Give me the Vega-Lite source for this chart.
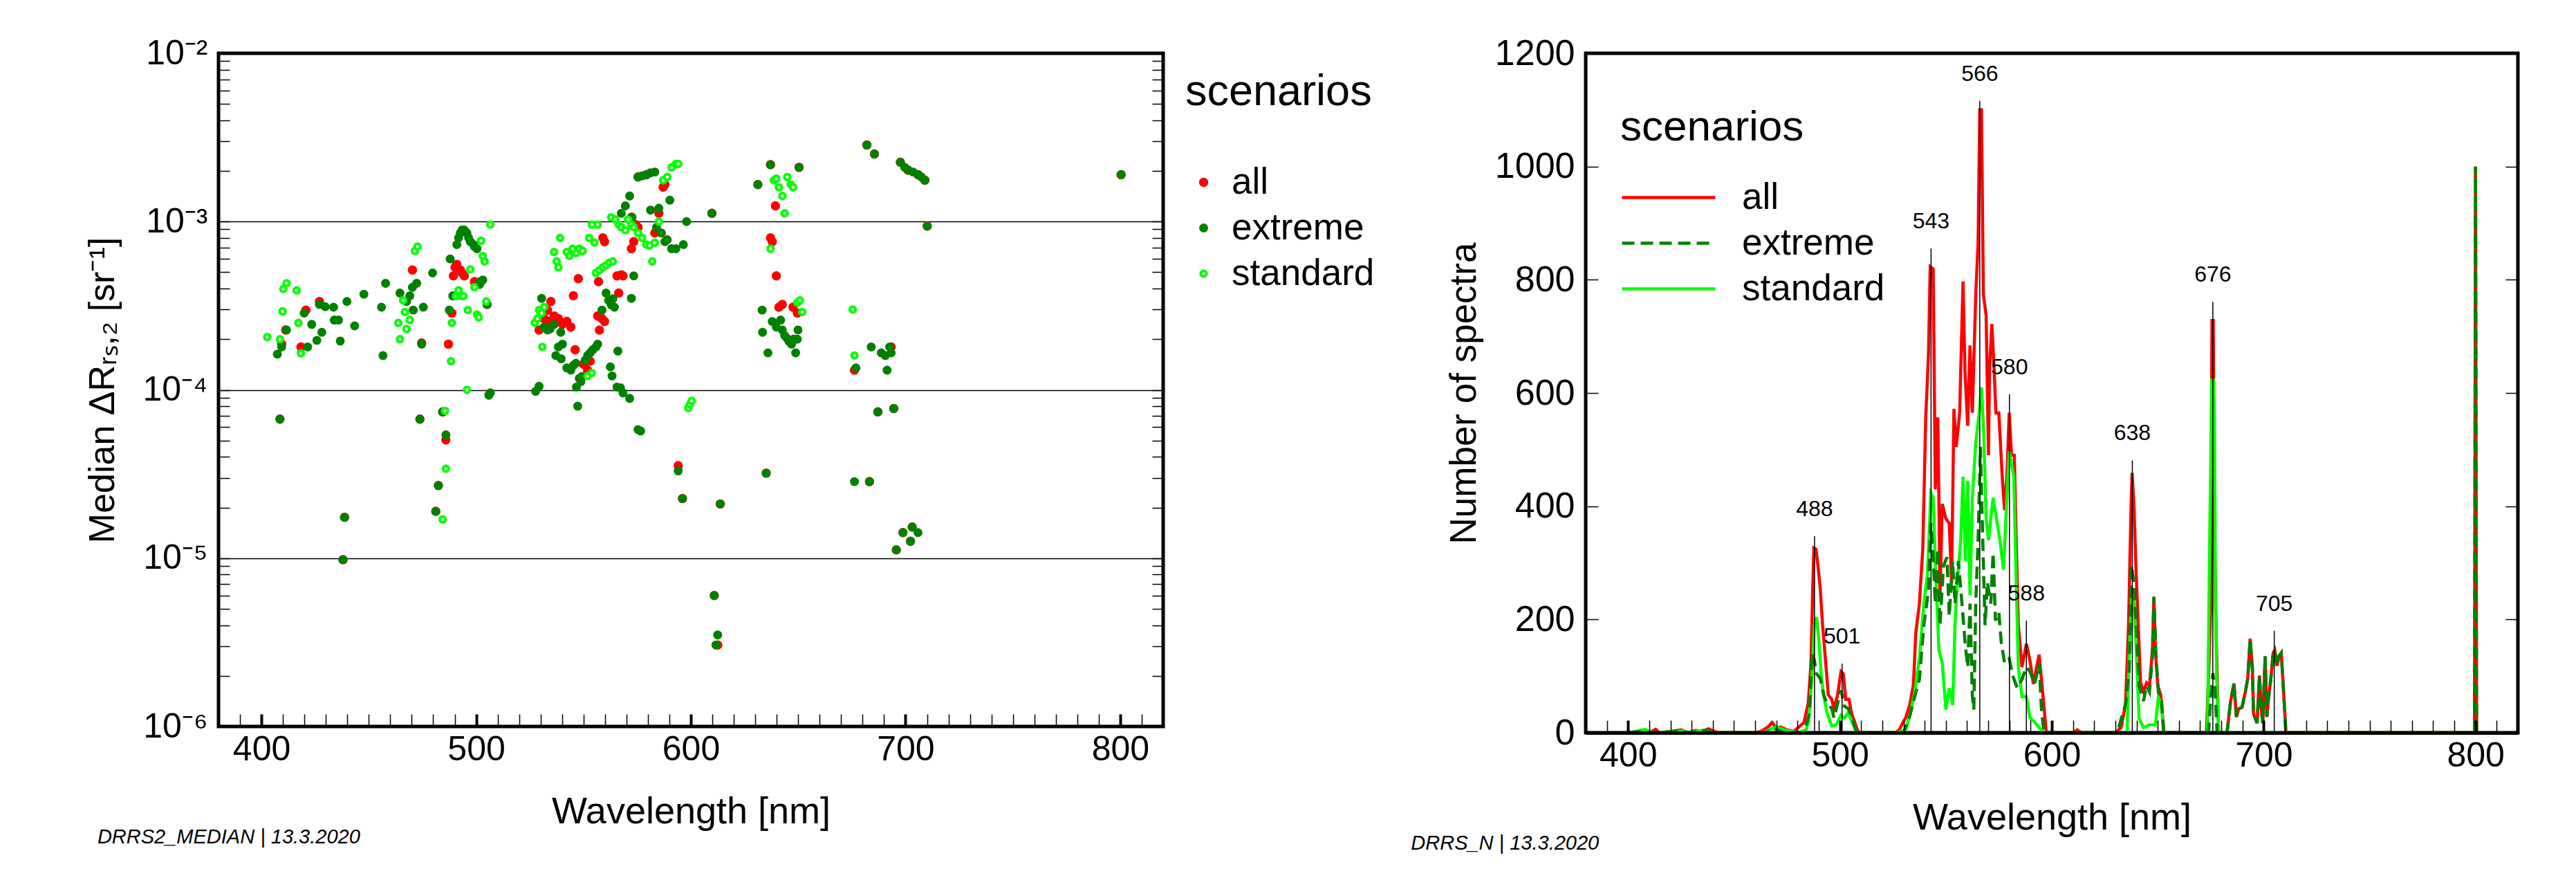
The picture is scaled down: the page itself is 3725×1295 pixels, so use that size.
{
  "$schema": "https://vega.github.io/schema/vega-lite/v6.json",
  "background": "white",
  "padding": {"left": 120, "top": 48, "right": 5, "bottom": 5},
  "bounds": "flush",
  "spacing": 611,
  "resolve": {
    "scale": {"fill": "independent", "stroke": "independent", "size": "independent", "strokeDash": "independent"},
    "legend": {"fill": "independent", "stroke": "independent", "size": "independent", "strokeDash": "independent"}
  },
  "config": {
    "font": "Liberation Sans",
    "view": {"stroke": "black", "strokeWidth": 5},
    "axis": {"domain": false, "labelFont": "Liberation Sans", "labelFontSize": 50, "titleFont": "Liberation Sans", "titleFontSize": 54, "titleFontWeight": "normal", "labelColor": "black", "titleColor": "black", "tickColor": "black", "grid": false, "labelOverlap": false, "labelFlush": false, "labelLimit": 0, "titleLimit": 0},
    "legend": {"titleFont": "Liberation Sans", "labelFont": "Liberation Sans", "titleFontWeight": "normal", "titleColor": "black", "labelColor": "black", "labelLimit": 0, "titleLimit": 0},
    "title": {"font": "Liberation Sans", "fontSize": 29, "fontStyle": "italic", "fontWeight": "normal", "color": "black"}
  },
  "datasets": {
    "pts": [
      {"w":409.4,"v":1.87e-4,"s":"all"},{"w":411.3,"v":2.27e-4,"s":"all"},{"w":418.4,"v":1.8e-4,"s":"all"},{"w":420.7,"v":2.98e-4,"s":"all"},{"w":427,"v":3.35e-4,"s":"all"},{"w":438,"v":9.8e-6,"s":"all"},{"w":408.6,"v":6.7e-5,"s":"all"},{"w":438.7,"v":1.75e-5,"s":"all"},{"w":470.3,"v":5.15e-4,"s":"all"},{"w":473.8,"v":6.7e-5,"s":"all"},{"w":474.6,"v":1.9e-4,"s":"all"},{"w":481.2,"v":1.9e-5,"s":"all"},{"w":482.4,"v":2.7e-5,"s":"all"},{"w":484.4,"v":7.4e-5,"s":"all"},{"w":485.9,"v":5.05e-5,"s":"all"},{"w":487.1,"v":1.87e-4,"s":"all"},{"w":488.7,"v":2.86e-4,"s":"all"},{"w":489.4,"v":4.76e-4,"s":"all"},{"w":490.2,"v":5.35e-4,"s":"all"},{"w":491,"v":5.56e-4,"s":"all"},{"w":492.6,"v":5.15e-4,"s":"all"},{"w":493.4,"v":4.95e-4,"s":"all"},{"w":494.5,"v":4.76e-4,"s":"all"},{"w":499.2,"v":4.4e-4,"s":"all"},{"w":505.1,"v":3.22e-4,"s":"all"},
      {"w":529.3,"v":2.27e-4,"s":"all"},{"w":531.6,"v":2.65e-4,"s":"all"},{"w":533.2,"v":2.98e-4,"s":"all"},{"w":534.4,"v":2.55e-4,"s":"all"},{"w":534.8,"v":3.35e-4,"s":"all"},{"w":536.3,"v":2.75e-4,"s":"all"},{"w":538.3,"v":2.65e-4,"s":"all"},{"w":540.2,"v":2.45e-4,"s":"all"},{"w":542.2,"v":2.55e-4,"s":"all"},{"w":544.1,"v":2.36e-4,"s":"all"},{"w":545.3,"v":3.62e-4,"s":"all"},{"w":546.1,"v":1.73e-4,"s":"all"},{"w":547.6,"v":4.58e-4,"s":"all"},{"w":550,"v":1.42e-4,"s":"all"},{"w":551.2,"v":1.48e-4,"s":"all"},{"w":551.9,"v":1.31e-4,"s":"all"},{"w":553.1,"v":1.48e-4,"s":"all"},{"w":556.6,"v":2.75e-4,"s":"all"},{"w":557.4,"v":2.27e-4,"s":"all"},{"w":557,"v":4.4e-4,"s":"all"},{"w":558.6,"v":2.65e-4,"s":"all"},{"w":559.8,"v":2.55e-4,"s":"all"},{"w":559,"v":8.0e-4,"s":"all"},{"w":559.8,"v":7.6e-4,"s":"all"},{"w":565.6,"v":4.76e-4,"s":"all"},{"w":567.6,"v":4.83e-4,"s":"all"},{"w":566.4,"v":3.76e-4,"s":"all"},{"w":568.4,"v":4.76e-4,"s":"all"},{"w":572.3,"v":6.9e-4,"s":"all"},{"w":573.4,"v":7.6e-4,"s":"all"},{"w":572.3,"v":1.06e-3,"s":"all"},{"w":574.2,"v":9.6e-4,"s":"all"},{"w":575.4,"v":9.25e-4,"s":"all"},{"w":583.2,"v":8.55e-4,"s":"all"},{"w":585.1,"v":1.12e-3,"s":"all"},{"w":587.1,"v":1.6e-3,"s":"all"},{"w":587.9,"v":1.66e-3,"s":"all"},{"w":594.1,"v":3.55e-5,"s":"all"},{"w":596.1,"v":2.26e-5,"s":"all"},{"w":609.8,"v":1.12e-3,"s":"all"},{"w":610.9,"v":6e-6,"s":"all"},{"w":612.5,"v":3.05e-6,"s":"all"},{"w":613.7,"v":2.1e-5,"s":"all"},{"w":575.4,"v":1.84e-3,"s":"all"},{"w":579.3,"v":1.9e-3,"s":"all"},
      {"w":631.2,"v":1.66e-3,"s":"all"},{"w":637.1,"v":2.18e-3,"s":"all"},{"w":639.4,"v":1.24e-3,"s":"all"},{"w":637.1,"v":8.0e-4,"s":"all"},{"w":637.9,"v":7.6e-4,"s":"all"},{"w":639.8,"v":4.76e-4,"s":"all"},{"w":641,"v":3.1e-4,"s":"all"},{"w":642.6,"v":3.22e-4,"s":"all"},{"w":647.6,"v":3.1e-4,"s":"all"},{"w":649.6,"v":2.86e-4,"s":"all"},{"w":648,"v":2.0e-4,"s":"all"},{"w":650.4,"v":2.1e-3,"s":"all"},{"w":635.1,"v":3.2e-5,"s":"all"},
      {"w":676.2,"v":1.31e-4,"s":"all"},{"w":683.2,"v":2.85e-5,"s":"all"},{"w":682,"v":2.85e-3,"s":"all"},{"w":685.5,"v":2.52e-3,"s":"all"},{"w":687.1,"v":7.4e-5,"s":"all"},{"w":693.3,"v":1.8e-4,"s":"all"},{"w":694.5,"v":7.75e-5,"s":"all"},{"w":695.7,"v":1.12e-5,"s":"all"},{"w":697.6,"v":2.25e-3,"s":"all"},{"w":698.8,"v":1.42e-5,"s":"all"},{"w":701.2,"v":2.02e-3,"s":"all"},{"w":702.3,"v":1.26e-5,"s":"all"},{"w":703.1,"v":1.53e-5,"s":"all"},{"w":705.8,"v":1.9e-3,"s":"all"},{"w":709,"v":1.76e-3,"s":"all"},{"w":710.1,"v":9.4e-4,"s":"all"},{"w":800.4,"v":1.9e-3,"s":"all"},

      {"w":407.4,"v":1.63e-4,"s":"extreme"},{"w":408.6,"v":6.7e-5,"s":"extreme"},{"w":409.4,"v":1.8e-4,"s":"extreme"},{"w":411.7,"v":2.27e-4,"s":"extreme"},{"w":419.9,"v":2.86e-4,"s":"extreme"},{"w":421.5,"v":1.8e-4,"s":"extreme"},{"w":423.4,"v":2.45e-4,"s":"extreme"},{"w":425.8,"v":1.97e-4,"s":"extreme"},{"w":427,"v":3.22e-4,"s":"extreme"},{"w":428.1,"v":2.2e-4,"s":"extreme"},{"w":429.7,"v":3.12e-4,"s":"extreme"},{"w":433.6,"v":3.1e-4,"s":"extreme"},{"w":433.9,"v":2.6e-4,"s":"extreme"},{"w":435.9,"v":2.6e-4,"s":"extreme"},{"w":436.7,"v":1.95e-4,"s":"extreme"},{"w":438.7,"v":1.75e-5,"s":"extreme"},{"w":437.9,"v":9.8e-6,"s":"extreme"},{"w":439.8,"v":3.35e-4,"s":"extreme"},{"w":443.4,"v":2.4e-4,"s":"extreme"},{"w":447.7,"v":3.7e-4,"s":"extreme"},{"w":455.9,"v":3.1e-4,"s":"extreme"},{"w":456.6,"v":1.6e-4,"s":"extreme"},{"w":457.8,"v":4.3e-4,"s":"extreme"},{"w":464.5,"v":3.76e-4,"s":"extreme"},{"w":467.6,"v":3.35e-4,"s":"extreme"},{"w":469.1,"v":3.62e-4,"s":"extreme"},{"w":470.3,"v":4.07e-4,"s":"extreme"},{"w":470.7,"v":2.98e-4,"s":"extreme"},{"w":472.3,"v":4.3e-4,"s":"extreme"},{"w":473.8,"v":6.7e-5,"s":"extreme"},{"w":475.4,"v":3.1e-4,"s":"extreme"},{"w":474.6,"v":1.87e-4,"s":"extreme"},{"w":479.7,"v":4.95e-4,"s":"extreme"},{"w":481.2,"v":1.9e-5,"s":"extreme"},{"w":482.4,"v":2.7e-5,"s":"extreme"},{"w":484.4,"v":7.4e-5,"s":"extreme"},{"w":485.9,"v":5.4e-5,"s":"extreme"},{"w":487.5,"v":2.98e-4,"s":"extreme"},{"w":487.9,"v":6.0e-4,"s":"extreme"},{"w":489.1,"v":3.62e-4,"s":"extreme"},{"w":491,"v":7.3e-4,"s":"extreme"},{"w":491.8,"v":8.0e-4,"s":"extreme"},{"w":492.6,"v":8.55e-4,"s":"extreme"},{"w":493.4,"v":8.9e-4,"s":"extreme"},{"w":494.5,"v":8.9e-4,"s":"extreme"},{"w":495.7,"v":8.55e-4,"s":"extreme"},{"w":496.5,"v":8.0e-4,"s":"extreme"},{"w":497.3,"v":7.6e-4,"s":"extreme"},{"w":498.8,"v":7.3e-4,"s":"extreme"},{"w":499.2,"v":7.1e-4,"s":"extreme"},{"w":500.4,"v":6.9e-4,"s":"extreme"},{"w":501.6,"v":4.23e-4,"s":"extreme"},{"w":501.9,"v":4.4e-4,"s":"extreme"},{"w":503.1,"v":4.5e-4,"s":"extreme"},{"w":505.1,"v":3.22e-4,"s":"extreme"},{"w":505.9,"v":9.3e-5,"s":"extreme"},{"w":506.6,"v":9.6e-5,"s":"extreme"},
      {"w":527.7,"v":9.8e-5,"s":"extreme"},{"w":529.3,"v":1.05e-4,"s":"extreme"},{"w":530.5,"v":3.5e-4,"s":"extreme"},{"w":531.6,"v":2.36e-4,"s":"extreme"},{"w":533.2,"v":2.27e-4,"s":"extreme"},{"w":534.4,"v":2.3e-4,"s":"extreme"},{"w":536.3,"v":2.45e-4,"s":"extreme"},{"w":539.4,"v":2.2e-4,"s":"extreme"},{"w":540.2,"v":1.87e-4,"s":"extreme"},{"w":538.3,"v":1.8e-4,"s":"extreme"},{"w":537.1,"v":1.6e-4,"s":"extreme"},{"w":539.6,"v":1.53e-4,"s":"extreme"},{"w":542.2,"v":1.35e-4,"s":"extreme"},{"w":544.1,"v":1.31e-4,"s":"extreme"},{"w":545.3,"v":1.4e-4,"s":"extreme"},{"w":546.5,"v":1.44e-4,"s":"extreme"},{"w":548,"v":1.17e-4,"s":"extreme"},{"w":549.2,"v":1.2e-4,"s":"extreme"},{"w":547.3,"v":8.0e-5,"s":"extreme"},{"w":546.7,"v":1.04e-4,"s":"extreme"},{"w":548.8,"v":1.12e-4,"s":"extreme"},{"w":550.8,"v":1.5e-4,"s":"extreme"},{"w":551.9,"v":1.6e-4,"s":"extreme"},{"w":553.1,"v":1.66e-4,"s":"extreme"},{"w":554.3,"v":1.73e-4,"s":"extreme"},{"w":555.8,"v":1.8e-4,"s":"extreme"},{"w":556.6,"v":1.87e-4,"s":"extreme"},{"w":558.6,"v":2.98e-4,"s":"extreme"},{"w":560.5,"v":3.76e-4,"s":"extreme"},{"w":561.7,"v":3.4e-4,"s":"extreme"},{"w":562.9,"v":3.2e-4,"s":"extreme"},{"w":564.4,"v":3.1e-4,"s":"extreme"},{"w":563.7,"v":3.48e-4,"s":"extreme"},{"w":562.5,"v":1.37e-4,"s":"extreme"},{"w":563.3,"v":1.21e-4,"s":"extreme"},{"w":566,"v":1.7e-4,"s":"extreme"},{"w":565.6,"v":1.04e-4,"s":"extreme"},{"w":567.2,"v":1.03e-4,"s":"extreme"},{"w":568.4,"v":9.6e-5,"s":"extreme"},{"w":571.5,"v":8.9e-5,"s":"extreme"},{"w":575.4,"v":5.8e-5,"s":"extreme"},{"w":576.6,"v":5.7e-5,"s":"extreme"},{"w":572.3,"v":3.5e-4,"s":"extreme"},{"w":573.4,"v":4.76e-4,"s":"extreme"},{"w":567.6,"v":1.12e-3,"s":"extreme"},{"w":569.5,"v":1.24e-3,"s":"extreme"},{"w":571.5,"v":1.42e-3,"s":"extreme"},{"w":572.6,"v":1.06e-3,"s":"extreme"},{"w":575.4,"v":1.84e-3,"s":"extreme"},{"w":577.3,"v":1.87e-3,"s":"extreme"},{"w":579.3,"v":1.9e-3,"s":"extreme"},{"w":581.2,"v":1.95e-3,"s":"extreme"},{"w":583.2,"v":1.97e-3,"s":"extreme"},{"w":581.2,"v":1.17e-3,"s":"extreme"},{"w":584,"v":9.25e-4,"s":"extreme"},{"w":585.1,"v":1.2e-3,"s":"extreme"},{"w":586.3,"v":8.55e-4,"s":"extreme"},{"w":587.9,"v":7.6e-4,"s":"extreme"},{"w":589,"v":7.8e-4,"s":"extreme"},{"w":591,"v":6.9e-4,"s":"extreme"},{"w":593,"v":6.9e-4,"s":"extreme"},{"w":590.2,"v":1.34e-3,"s":"extreme"},{"w":596.5,"v":7.3e-4,"s":"extreme"},{"w":598,"v":1.0e-3,"s":"extreme"},{"w":594.1,"v":3.3e-5,"s":"extreme"},{"w":596.1,"v":2.26e-5,"s":"extreme"},{"w":609.8,"v":1.12e-3,"s":"extreme"},{"w":610.9,"v":6.0e-6,"s":"extreme"},{"w":612.5,"v":3.5e-6,"s":"extreme"},{"w":611.7,"v":3.05e-6,"s":"extreme"},{"w":613.7,"v":2.1e-5,"s":"extreme"},
      {"w":631.2,"v":1.66e-3,"s":"extreme"},{"w":637.1,"v":2.18e-3,"s":"extreme"},{"w":633.2,"v":2.98e-4,"s":"extreme"},{"w":633.4,"v":2.2e-4,"s":"extreme"},{"w":635.9,"v":1.66e-4,"s":"extreme"},{"w":637.9,"v":2.55e-4,"s":"extreme"},{"w":639.8,"v":2.36e-4,"s":"extreme"},{"w":641.8,"v":2.6e-4,"s":"extreme"},{"w":642.6,"v":2.27e-4,"s":"extreme"},{"w":643.7,"v":2.1e-4,"s":"extreme"},{"w":644.9,"v":2.02e-4,"s":"extreme"},{"w":645.7,"v":1.94e-4,"s":"extreme"},{"w":646.9,"v":1.87e-4,"s":"extreme"},{"w":648,"v":2.0e-4,"s":"extreme"},{"w":649.6,"v":2.0e-4,"s":"extreme"},{"w":648.8,"v":1.66e-4,"s":"extreme"},{"w":650.4,"v":2.1e-3,"s":"extreme"},{"w":635.1,"v":3.2e-5,"s":"extreme"},{"w":649.9,"v":2.27e-4,"s":"extreme"},
      {"w":676.9,"v":1.35e-4,"s":"extreme"},{"w":676.2,"v":2.85e-5,"s":"extreme"},{"w":682,"v":2.85e-3,"s":"extreme"},{"w":685.5,"v":2.52e-3,"s":"extreme"},{"w":683.2,"v":2.85e-5,"s":"extreme"},{"w":684,"v":1.8e-4,"s":"extreme"},{"w":687.1,"v":7.4e-5,"s":"extreme"},{"w":688.7,"v":1.66e-4,"s":"extreme"},{"w":690.6,"v":1.6e-4,"s":"extreme"},{"w":691.4,"v":1.31e-4,"s":"extreme"},{"w":692.6,"v":1.8e-4,"s":"extreme"},{"w":693.3,"v":1.66e-4,"s":"extreme"},{"w":694.5,"v":7.75e-5,"s":"extreme"},{"w":695.7,"v":1.12e-5,"s":"extreme"},{"w":697.6,"v":2.25e-3,"s":"extreme"},{"w":698.8,"v":1.42e-5,"s":"extreme"},{"w":699.6,"v":2.1e-3,"s":"extreme"},{"w":701.2,"v":2.02e-3,"s":"extreme"},{"w":702.3,"v":1.26e-5,"s":"extreme"},{"w":703.1,"v":1.53e-5,"s":"extreme"},{"w":703.5,"v":1.97e-3,"s":"extreme"},{"w":705.8,"v":1.42e-5,"s":"extreme"},{"w":705.9,"v":1.9e-3,"s":"extreme"},{"w":707.4,"v":1.84e-3,"s":"extreme"},{"w":709,"v":1.76e-3,"s":"extreme"},{"w":710.1,"v":9.4e-4,"s":"extreme"},{"w":800.4,"v":1.9e-3,"s":"extreme"},

      {"w":402.7,"v":2.06e-4,"s":"standard"},{"w":408.6,"v":2.0e-4,"s":"standard"},{"w":409.8,"v":2.93e-4,"s":"standard"},{"w":410.2,"v":3.98e-4,"s":"standard"},{"w":411.7,"v":4.3e-4,"s":"standard"},{"w":416.4,"v":3.9e-4,"s":"standard"},{"w":417.2,"v":2.5e-4,"s":"standard"},{"w":418.4,"v":1.65e-4,"s":"standard"},
      {"w":463.7,"v":2.5e-4,"s":"standard"},{"w":464.5,"v":2.0e-4,"s":"standard"},{"w":466,"v":3.4e-4,"s":"standard"},{"w":466.8,"v":2.9e-4,"s":"standard"},{"w":467.6,"v":2.3e-4,"s":"standard"},{"w":469.1,"v":2.6e-4,"s":"standard"},{"w":471.5,"v":6.7e-4,"s":"standard"},{"w":472.7,"v":7.1e-4,"s":"standard"},{"w":484.4,"v":1.7e-5,"s":"standard"},{"w":485.5,"v":7.5e-5,"s":"standard"},{"w":485.9,"v":3.4e-5,"s":"standard"},{"w":488.3,"v":1.48e-4,"s":"standard"},{"w":488.7,"v":2.5e-4,"s":"standard"},{"w":490.6,"v":3.6e-4,"s":"standard"},{"w":492.6,"v":3.62e-4,"s":"standard"},{"w":494.1,"v":3.6e-4,"s":"standard"},{"w":491.8,"v":3.9e-4,"s":"standard"},{"w":496.1,"v":2.98e-4,"s":"standard"},{"w":495.7,"v":1.0e-4,"s":"standard"},{"w":497.3,"v":5.2e-4,"s":"standard"},{"w":499.2,"v":4.07e-4,"s":"standard"},{"w":500.4,"v":2.8e-4,"s":"standard"},{"w":501.2,"v":2.7e-4,"s":"standard"},{"w":502.3,"v":7.7e-4,"s":"standard"},{"w":503.1,"v":6.25e-4,"s":"standard"},{"w":503.9,"v":5.8e-4,"s":"standard"},{"w":504.7,"v":3.35e-4,"s":"standard"},{"w":506.6,"v":9.6e-4,"s":"standard"},
      {"w":527.3,"v":2.5e-4,"s":"standard"},{"w":528.5,"v":2.65e-4,"s":"standard"},{"w":529.3,"v":2.98e-4,"s":"standard"},{"w":530.5,"v":2.86e-4,"s":"standard"},{"w":531.6,"v":3.1e-4,"s":"standard"},{"w":530.8,"v":1.8e-4,"s":"standard"},{"w":536.3,"v":6.6e-4,"s":"standard"},{"w":537.5,"v":5.8e-4,"s":"standard"},{"w":538.3,"v":5.35e-4,"s":"standard"},{"w":539.1,"v":8.0e-4,"s":"standard"},{"w":542.2,"v":6.6e-4,"s":"standard"},{"w":543.4,"v":6.25e-4,"s":"standard"},{"w":544.9,"v":6.9e-4,"s":"standard"},{"w":546.5,"v":6.5e-4,"s":"standard"},{"w":548,"v":6.9e-4,"s":"standard"},{"w":549.6,"v":6.7e-4,"s":"standard"},{"w":552.7,"v":8.0e-4,"s":"standard"},{"w":553.9,"v":9.6e-4,"s":"standard"},{"w":555.8,"v":4.95e-4,"s":"standard"},{"w":557.4,"v":5.15e-4,"s":"standard"},{"w":559,"v":5.35e-4,"s":"standard"},{"w":560.5,"v":5.5e-4,"s":"standard"},{"w":562.1,"v":5.7e-4,"s":"standard"},{"w":563.7,"v":5.8e-4,"s":"standard"},{"w":551.9,"v":1.21e-4,"s":"standard"},{"w":553.9,"v":1.26e-4,"s":"standard"},{"w":555.1,"v":7.5e-4,"s":"standard"},{"w":556.6,"v":9.6e-4,"s":"standard"},{"w":562.9,"v":1.06e-3,"s":"standard"},{"w":564.8,"v":1.03e-3,"s":"standard"},{"w":566.4,"v":9.6e-4,"s":"standard"},{"w":567.6,"v":9.25e-4,"s":"standard"},{"w":569.5,"v":8.9e-4,"s":"standard"},{"w":570.7,"v":1.03e-3,"s":"standard"},{"w":572.3,"v":9.6e-4,"s":"standard"},{"w":573.4,"v":9.25e-4,"s":"standard"},{"w":575.4,"v":8.55e-4,"s":"standard"},{"w":577.3,"v":8.0e-4,"s":"standard"},{"w":579.3,"v":7.3e-4,"s":"standard"},{"w":580.8,"v":7.2e-4,"s":"standard"},{"w":582,"v":5.8e-4,"s":"standard"},{"w":583.2,"v":7.5e-4,"s":"standard"},{"w":585.1,"v":1.0e-3,"s":"standard"},{"w":587.1,"v":1.76e-3,"s":"standard"},{"w":589,"v":1.84e-3,"s":"standard"},{"w":591,"v":2.1e-3,"s":"standard"},{"w":593,"v":2.2e-3,"s":"standard"},{"w":594.1,"v":2.2e-3,"s":"standard"},{"w":598.8,"v":7.8e-5,"s":"standard"},{"w":599.6,"v":8.2e-5,"s":"standard"},{"w":600.4,"v":8.6e-5,"s":"standard"},
      {"w":638.7,"v":1.76e-3,"s":"standard"},{"w":639.8,"v":1.8e-3,"s":"standard"},{"w":641,"v":1.6e-3,"s":"standard"},{"w":642.6,"v":1.42e-3,"s":"standard"},{"w":643.7,"v":1.12e-3,"s":"standard"},{"w":644.9,"v":1.84e-3,"s":"standard"},{"w":646.5,"v":1.66e-3,"s":"standard"},{"w":647.6,"v":1.6e-3,"s":"standard"},{"w":637.1,"v":6.9e-4,"s":"standard"},{"w":649.6,"v":3.3e-4,"s":"standard"},{"w":650.8,"v":3.4e-4,"s":"standard"},{"w":651.9,"v":2.9e-4,"s":"standard"},{"w":675.4,"v":3.0e-4,"s":"standard"},{"w":676.2,"v":1.6e-4,"s":"standard"}
    ],
    "lines": [
      {"w":400,"n":0,"s":"all"},{"w":404,"n":0,"s":"all"},{"w":406,"n":4,"s":"all"},{"w":408,"n":2,"s":"all"},{"w":410,"n":0,"s":"all"},{"w":413,"n":6,"s":"all"},{"w":415,"n":0,"s":"all"},{"w":420,"n":2,"s":"all"},{"w":425,"n":5,"s":"all"},{"w":428,"n":0,"s":"all"},{"w":432,"n":4,"s":"all"},{"w":435,"n":2,"s":"all"},{"w":438,"n":7,"s":"all"},{"w":440,"n":3,"s":"all"},{"w":443,"n":0,"s":"all"},{"w":460,"n":0,"s":"all"},{"w":463,"n":3,"s":"all"},{"w":466,"n":10,"s":"all"},{"w":468,"n":18,"s":"all"},{"w":470,"n":8,"s":"all"},{"w":472,"n":10,"s":"all"},{"w":475,"n":5,"s":"all"},{"w":478,"n":2,"s":"all"},{"w":480,"n":8,"s":"all"},{"w":483,"n":18,"s":"all"},{"w":485,"n":51,"s":"all"},{"w":486.3,"n":120,"s":"all"},{"w":487.2,"n":263,"s":"all"},{"w":487.7,"n":326,"s":"all"},{"w":488.7,"n":324,"s":"all"},{"w":489.6,"n":295,"s":"all"},{"w":490.7,"n":255,"s":"all"},{"w":491.8,"n":190,"s":"all"},{"w":492.9,"n":141,"s":"all"},{"w":494.5,"n":67,"s":"all"},{"w":496.1,"n":59,"s":"all"},{"w":497.2,"n":43,"s":"all"},{"w":498.9,"n":67,"s":"all"},{"w":500.5,"n":108,"s":"all"},{"w":501.6,"n":104,"s":"all"},{"w":502.7,"n":59,"s":"all"},{"w":504.3,"n":59,"s":"all"},{"w":505.4,"n":35,"s":"all"},{"w":507,"n":18,"s":"all"},{"w":508.1,"n":6,"s":"all"},{"w":509,"n":0,"s":"all"},{"w":526,"n":0,"s":"all"},{"w":528,"n":5,"s":"all"},{"w":530,"n":20,"s":"all"},{"w":531,"n":26,"s":"all"},{"w":533,"n":50,"s":"all"},{"w":534.7,"n":86,"s":"all"},{"w":535.8,"n":176,"s":"all"},{"w":537.5,"n":228,"s":"all"},{"w":539.1,"n":325,"s":"all"},{"w":540.5,"n":557,"s":"all"},{"w":541.8,"n":670,"s":"all"},{"w":542.6,"n":823,"s":"all"},{"w":544,"n":819,"s":"all"},{"w":544.5,"n":640,"s":"all"},{"w":545,"n":430,"s":"all"},{"w":546.2,"n":557,"s":"all"},{"w":546.7,"n":415,"s":"all"},{"w":547.2,"n":236,"s":"all"},{"w":548.3,"n":404,"s":"all"},{"w":550,"n":378,"s":"all"},{"w":551.6,"n":370,"s":"all"},{"w":552.7,"n":265,"s":"all"},{"w":553.8,"n":572,"s":"all"},{"w":554.9,"n":505,"s":"all"},{"w":556.5,"n":565,"s":"all"},{"w":558.1,"n":797,"s":"all"},{"w":559,"n":640,"s":"all"},{"w":560.3,"n":542,"s":"all"},{"w":561.4,"n":684,"s":"all"},{"w":562.5,"n":565,"s":"all"},{"w":564.1,"n":774,"s":"all"},{"w":565.2,"n":864,"s":"all"},{"w":566,"n":1100,"s":"all"},{"w":566.8,"n":1100,"s":"all"},{"w":567.7,"n":774,"s":"all"},{"w":569,"n":737,"s":"all"},{"w":570.1,"n":490,"s":"all"},{"w":570.6,"n":640,"s":"all"},{"w":571.7,"n":722,"s":"all"},{"w":572.8,"n":640,"s":"all"},{"w":573.6,"n":565,"s":"all"},{"w":575,"n":565,"s":"all"},{"w":576.6,"n":452,"s":"all"},{"w":577.7,"n":393,"s":"all"},{"w":578.8,"n":452,"s":"all"},{"w":579.9,"n":565,"s":"all"},{"w":581,"n":490,"s":"all"},{"w":582.3,"n":490,"s":"all"},{"w":583.2,"n":340,"s":"all"},{"w":584.2,"n":190,"s":"all"},{"w":585.9,"n":116,"s":"all"},{"w":588,"n":157,"s":"all"},{"w":589.7,"n":127,"s":"all"},{"w":591.3,"n":86,"s":"all"},{"w":594,"n":138,"s":"all"},{"w":595.7,"n":71,"s":"all"},{"w":597.3,"n":4,"s":"all"},{"w":598,"n":0,"s":"all"},{"w":610,"n":0,"s":"all"},{"w":612,"n":5,"s":"all"},{"w":614,"n":0,"s":"all"},{"w":630,"n":0,"s":"all"},{"w":632.7,"n":9,"s":"all"},{"w":634.8,"n":50,"s":"all"},{"w":636.2,"n":188,"s":"all"},{"w":637.4,"n":398,"s":"all"},{"w":637.9,"n":459,"s":"all"},{"w":638.8,"n":398,"s":"all"},{"w":639.7,"n":293,"s":"all"},{"w":640.7,"n":198,"s":"all"},{"w":641.9,"n":88,"s":"all"},{"w":643.3,"n":72,"s":"all"},{"w":644.7,"n":88,"s":"all"},{"w":646.1,"n":83,"s":"all"},{"w":647.5,"n":146,"s":"all"},{"w":648.2,"n":240,"s":"all"},{"w":648.9,"n":146,"s":"all"},{"w":650,"n":83,"s":"all"},{"w":651.4,"n":67,"s":"all"},{"w":652.4,"n":24,"s":"all"},{"w":653,"n":0,"s":"all"},{"w":673,"n":0,"s":"all"},{"w":674,"n":100,"s":"all"},{"w":675,"n":220,"s":"all"},{"w":675.6,"n":728,"s":"all"},{"w":676.2,"n":728,"s":"all"},{"w":676.7,"n":378,"s":"all"},{"w":677.3,"n":225,"s":"all"},{"w":677.8,"n":140,"s":"all"},{"w":678.7,"n":0,"s":"all"},{"w":682.7,"n":0,"s":"all"},{"w":684.4,"n":56,"s":"all"},{"w":686,"n":87,"s":"all"},{"w":687.1,"n":28,"s":"all"},{"w":688.2,"n":42,"s":"all"},{"w":689.8,"n":45,"s":"all"},{"w":691.4,"n":73,"s":"all"},{"w":692.5,"n":96,"s":"all"},{"w":693.6,"n":166,"s":"all"},{"w":694.7,"n":112,"s":"all"},{"w":695.2,"n":33,"s":"all"},{"w":696.9,"n":17,"s":"all"},{"w":698,"n":101,"s":"all"},{"w":698.8,"n":45,"s":"all"},{"w":699.6,"n":17,"s":"all"},{"w":700.7,"n":135,"s":"all"},{"w":701.5,"n":28,"s":"all"},{"w":702.3,"n":62,"s":"all"},{"w":703.4,"n":96,"s":"all"},{"w":704.5,"n":141,"s":"all"},{"w":705.2,"n":146,"s":"all"},{"w":706.3,"n":118,"s":"all"},{"w":707.2,"n":135,"s":"all"},{"w":708.3,"n":141,"s":"all"},{"w":709.4,"n":73,"s":"all"},{"w":710.5,"n":0,"s":"all"},{"w":799.5,"n":0,"s":"all"},{"w":800,"n":1000,"s":"all"},{"w":800.5,"n":0,"s":"all"},

      {"w":400,"n":0,"s":"standard"},{"w":405,"n":3,"s":"standard"},{"w":408,"n":6,"s":"standard"},{"w":410,"n":2,"s":"standard"},{"w":412,"n":0,"s":"standard"},{"w":420,"n":0,"s":"standard"},{"w":425,"n":3,"s":"standard"},{"w":428,"n":0,"s":"standard"},{"w":435,"n":4,"s":"standard"},{"w":438,"n":2,"s":"standard"},{"w":440,"n":0,"s":"standard"},{"w":465,"n":0,"s":"standard"},{"w":467,"n":6,"s":"standard"},{"w":470,"n":10,"s":"standard"},{"w":473,"n":6,"s":"standard"},{"w":476,"n":3,"s":"standard"},{"w":480,"n":0,"s":"standard"},{"w":484,"n":5,"s":"standard"},{"w":485.2,"n":18,"s":"standard"},{"w":486.8,"n":100,"s":"standard"},{"w":487.9,"n":190,"s":"standard"},{"w":489,"n":204,"s":"standard"},{"w":490.1,"n":161,"s":"standard"},{"w":491.2,"n":100,"s":"standard"},{"w":492.3,"n":67,"s":"standard"},{"w":493.9,"n":35,"s":"standard"},{"w":496.1,"n":12,"s":"standard"},{"w":498.3,"n":14,"s":"standard"},{"w":500.5,"n":31,"s":"standard"},{"w":502.1,"n":26,"s":"standard"},{"w":503.8,"n":35,"s":"standard"},{"w":505.4,"n":22,"s":"standard"},{"w":507,"n":8,"s":"standard"},{"w":508,"n":0,"s":"standard"},{"w":527,"n":0,"s":"standard"},{"w":529,"n":3,"s":"standard"},{"w":530.9,"n":4,"s":"standard"},{"w":533,"n":30,"s":"standard"},{"w":535.3,"n":71,"s":"standard"},{"w":537.5,"n":131,"s":"standard"},{"w":539.6,"n":228,"s":"standard"},{"w":541.3,"n":280,"s":"standard"},{"w":542.9,"n":423,"s":"standard"},{"w":544,"n":415,"s":"standard"},{"w":545,"n":303,"s":"standard"},{"w":546.7,"n":146,"s":"standard"},{"w":548.3,"n":123,"s":"standard"},{"w":550,"n":41,"s":"standard"},{"w":551.6,"n":79,"s":"standard"},{"w":553.2,"n":49,"s":"standard"},{"w":554.3,"n":190,"s":"standard"},{"w":555.4,"n":266,"s":"standard"},{"w":557,"n":340,"s":"standard"},{"w":558.1,"n":452,"s":"standard"},{"w":559.2,"n":303,"s":"standard"},{"w":560.3,"n":445,"s":"standard"},{"w":561.4,"n":243,"s":"standard"},{"w":562.5,"n":415,"s":"standard"},{"w":564.1,"n":512,"s":"standard"},{"w":565.7,"n":565,"s":"standard"},{"w":566.8,"n":610,"s":"standard"},{"w":567.9,"n":527,"s":"standard"},{"w":569,"n":378,"s":"standard"},{"w":570.1,"n":340,"s":"standard"},{"w":571.2,"n":378,"s":"standard"},{"w":572.3,"n":415,"s":"standard"},{"w":573.9,"n":378,"s":"standard"},{"w":575.5,"n":340,"s":"standard"},{"w":577.2,"n":288,"s":"standard"},{"w":578.3,"n":378,"s":"standard"},{"w":579.9,"n":497,"s":"standard"},{"w":582.1,"n":452,"s":"standard"},{"w":583.2,"n":266,"s":"standard"},{"w":584.2,"n":116,"s":"standard"},{"w":585.9,"n":64,"s":"standard"},{"w":588,"n":64,"s":"standard"},{"w":589.7,"n":26,"s":"standard"},{"w":591.9,"n":19,"s":"standard"},{"w":595.1,"n":4,"s":"standard"},{"w":596,"n":0,"s":"standard"},{"w":635.5,"n":0,"s":"standard"},{"w":636.5,"n":135,"s":"standard"},{"w":637.6,"n":240,"s":"standard"},{"w":638.8,"n":229,"s":"standard"},{"w":639.7,"n":161,"s":"standard"},{"w":641.2,"n":25,"s":"standard"},{"w":643.3,"n":9,"s":"standard"},{"w":646.1,"n":14,"s":"standard"},{"w":648.9,"n":14,"s":"standard"},{"w":650.3,"n":62,"s":"standard"},{"w":651.7,"n":50,"s":"standard"},{"w":652.8,"n":0,"s":"standard"},{"w":673.5,"n":0,"s":"standard"},{"w":674.6,"n":366,"s":"standard"},{"w":675.5,"n":623,"s":"standard"},{"w":676.2,"n":623,"s":"standard"},{"w":676.7,"n":567,"s":"standard"},{"w":677.3,"n":225,"s":"standard"},{"w":677.8,"n":100,"s":"standard"},{"w":678.7,"n":0,"s":"standard"},{"w":800,"n":0,"s":"standard"},

      {"w":400,"n":0,"s":"extreme"},{"w":406,"n":3,"s":"extreme"},{"w":410,"n":0,"s":"extreme"},{"w":425,"n":3,"s":"extreme"},{"w":430,"n":0,"s":"extreme"},{"w":437,"n":5,"s":"extreme"},{"w":440,"n":0,"s":"extreme"},{"w":465,"n":0,"s":"extreme"},{"w":468,"n":8,"s":"extreme"},{"w":471,"n":4,"s":"extreme"},{"w":474,"n":0,"s":"extreme"},{"w":483,"n":0,"s":"extreme"},{"w":485.7,"n":35,"s":"extreme"},{"w":486.8,"n":141,"s":"extreme"},{"w":487.9,"n":128,"s":"extreme"},{"w":489,"n":104,"s":"extreme"},{"w":490.7,"n":96,"s":"extreme"},{"w":492.3,"n":67,"s":"extreme"},{"w":493.9,"n":51,"s":"extreme"},{"w":496.1,"n":43,"s":"extreme"},{"w":497.2,"n":26,"s":"extreme"},{"w":498.9,"n":51,"s":"extreme"},{"w":500.5,"n":75,"s":"extreme"},{"w":502.1,"n":47,"s":"extreme"},{"w":503.8,"n":43,"s":"extreme"},{"w":505.4,"n":31,"s":"extreme"},{"w":507,"n":10,"s":"extreme"},{"w":508,"n":0,"s":"extreme"},{"w":530,"n":0,"s":"extreme"},{"w":533,"n":30,"s":"extreme"},{"w":535.3,"n":64,"s":"extreme"},{"w":537.5,"n":94,"s":"extreme"},{"w":539.6,"n":190,"s":"extreme"},{"w":541.8,"n":251,"s":"extreme"},{"w":542.9,"n":370,"s":"extreme"},{"w":544,"n":310,"s":"extreme"},{"w":545,"n":228,"s":"extreme"},{"w":546.2,"n":325,"s":"extreme"},{"w":547.2,"n":190,"s":"extreme"},{"w":548.9,"n":295,"s":"extreme"},{"w":550.5,"n":310,"s":"extreme"},{"w":551.6,"n":206,"s":"extreme"},{"w":553.2,"n":303,"s":"extreme"},{"w":554.3,"n":228,"s":"extreme"},{"w":555.9,"n":303,"s":"extreme"},{"w":557.6,"n":228,"s":"extreme"},{"w":559.2,"n":153,"s":"extreme"},{"w":560.3,"n":116,"s":"extreme"},{"w":561.4,"n":228,"s":"extreme"},{"w":562.5,"n":64,"s":"extreme"},{"w":563.2,"n":41,"s":"extreme"},{"w":564.1,"n":228,"s":"extreme"},{"w":565.2,"n":340,"s":"extreme"},{"w":566.3,"n":505,"s":"extreme"},{"w":567.4,"n":340,"s":"extreme"},{"w":568.5,"n":190,"s":"extreme"},{"w":569.6,"n":266,"s":"extreme"},{"w":571.2,"n":228,"s":"extreme"},{"w":572.3,"n":318,"s":"extreme"},{"w":573.4,"n":198,"s":"extreme"},{"w":575,"n":213,"s":"extreme"},{"w":576.1,"n":161,"s":"extreme"},{"w":577.7,"n":123,"s":"extreme"},{"w":579.9,"n":131,"s":"extreme"},{"w":581.5,"n":101,"s":"extreme"},{"w":583.7,"n":79,"s":"extreme"},{"w":585.9,"n":94,"s":"extreme"},{"w":588,"n":116,"s":"extreme"},{"w":589.7,"n":108,"s":"extreme"},{"w":591.9,"n":86,"s":"extreme"},{"w":594,"n":123,"s":"extreme"},{"w":595.1,"n":41,"s":"extreme"},{"w":596.2,"n":4,"s":"extreme"},{"w":597,"n":0,"s":"extreme"},{"w":631,"n":0,"s":"extreme"},{"w":632.7,"n":24,"s":"extreme"},{"w":634.8,"n":50,"s":"extreme"},{"w":636.5,"n":109,"s":"extreme"},{"w":637.6,"n":296,"s":"extreme"},{"w":638.8,"n":261,"s":"extreme"},{"w":639.7,"n":198,"s":"extreme"},{"w":641.2,"n":83,"s":"extreme"},{"w":643.3,"n":56,"s":"extreme"},{"w":644.7,"n":83,"s":"extreme"},{"w":646.1,"n":72,"s":"extreme"},{"w":647.5,"n":135,"s":"extreme"},{"w":648.2,"n":240,"s":"extreme"},{"w":649.2,"n":135,"s":"extreme"},{"w":650.3,"n":72,"s":"extreme"},{"w":651.7,"n":62,"s":"extreme"},{"w":652.8,"n":0,"s":"extreme"},{"w":674,"n":0,"s":"extreme"},{"w":675,"n":60,"s":"extreme"},{"w":676,"n":105,"s":"extreme"},{"w":677,"n":80,"s":"extreme"},{"w":678,"n":0,"s":"extreme"},{"w":682.7,"n":0,"s":"extreme"},{"w":684.4,"n":56,"s":"extreme"},{"w":686,"n":87,"s":"extreme"},{"w":687.1,"n":28,"s":"extreme"},{"w":688.2,"n":42,"s":"extreme"},{"w":689.8,"n":45,"s":"extreme"},{"w":691.4,"n":73,"s":"extreme"},{"w":692.5,"n":96,"s":"extreme"},{"w":693.6,"n":166,"s":"extreme"},{"w":694.7,"n":112,"s":"extreme"},{"w":695.2,"n":33,"s":"extreme"},{"w":696.9,"n":17,"s":"extreme"},{"w":698,"n":101,"s":"extreme"},{"w":698.8,"n":45,"s":"extreme"},{"w":699.6,"n":17,"s":"extreme"},{"w":700.7,"n":135,"s":"extreme"},{"w":701.5,"n":28,"s":"extreme"},{"w":702.3,"n":62,"s":"extreme"},{"w":703.4,"n":96,"s":"extreme"},{"w":704.5,"n":141,"s":"extreme"},{"w":705.2,"n":146,"s":"extreme"},{"w":706.3,"n":118,"s":"extreme"},{"w":707.2,"n":135,"s":"extreme"},{"w":708.3,"n":141,"s":"extreme"},{"w":709.4,"n":73,"s":"extreme"},{"w":710.5,"n":0,"s":"extreme"},{"w":799.5,"n":0,"s":"extreme"},{"w":800,"n":1000,"s":"extreme"},{"w":800.5,"n":0,"s":"extreme"}
    ],
    "peaks": [
      {"w":488,"top":347},{"w":501,"top":122},{"w":543,"top":855},{"w":566,"top":1116},{"w":580,"top":598},{"w":588,"top":198},{"w":638,"top":481},{"w":676,"top":761},{"w":705,"top":180}
    ]
  },
  "hconcat": [
    {
      "width": 1366,
      "height": 973,
      "title": {"text": "DRRS2_MEDIAN | 13.3.2020", "orient": "bottom", "anchor": "start", "frame": "bounds", "offset": -4, "dx": 18},
      "data": {"name": "pts"},
      "layer": [
        {
          "mark": {"type": "point", "strokeWidth": 4, "opacity": 1},
          "encoding": {
            "x": {"field": "w", "type": "quantitative", "scale": {"domain": [380, 820], "nice": false, "zero": false},
              "axis": {"orient": "bottom", "values": [390,400,410,420,430,440,450,460,470,480,490,500,510,520,530,540,550,560,570,580,590,600,610,620,630,640,650,660,670,680,690,700,710,720,730,740,750,760,770,780,790,800,810],
                "format": "d", "labelExpr": "datum.value % 100 == 0 ? datum.label : ''",
                "tickSize": -18, "tickWidth": {"condition": {"test": "datum.value % 100 == 0", "value": 4}, "value": 1.5},
                "labelPadding": 26, "title": "Wavelength [nm]", "titlePadding": 38}},
            "y": {"field": "v", "type": "quantitative", "scale": {"type": "log", "domain": [0.000001, 0.01], "nice": false},
              "axis": {"orient": "left", "values": [0.000001,0.000002,0.000003,0.000004,0.000005,0.000006,0.000007,0.000008,0.000009,0.00001,0.00002,0.00003,0.00004,0.00005,0.00006,0.00007,0.00008,0.00009,0.0001,0.0002,0.0003,0.0004,0.0005,0.0006,0.0007,0.0008,0.0009,0.001,0.002,0.003,0.004,0.005,0.006,0.007,0.008,0.009,0.01],
                "labelExpr": "datum.value == 0.01 ? '10⁻²' : datum.value == 0.001 ? '10⁻³' : datum.value == 0.0001 ? '10⁻⁴' : datum.value == 0.00001 ? '10⁻⁵' : datum.value == 0.000001 ? '10⁻⁶' : ''",
                "tickSize": -16, "tickWidth": 1.5, "labelPadding": 32,
                "grid": true, "gridColor": "black", "gridWidth": 1.5,
                "gridOpacity": {"condition": {"test": "datum.value == 0.001 || datum.value == 0.0001 || datum.value == 0.00001", "value": 1}, "value": 0},
                "title": "Median ΔRᵣₛ,₂ [sr⁻¹]", "titleFontSize": 52, "titlePadding": 30}},
            "fill": {"field": "s", "type": "nominal", "scale": {"domain": ["all", "extreme", "standard"], "range": ["#ff0000", "#008000", "#ffffff"]},
              "legend": {"title": "scenarios", "orient": "right", "offset": 6, "padding": 25, "titleFontSize": 63, "labelFontSize": 53, "titlePadding": 72, "rowPadding": 12, "symbolStrokeWidth": 4, "symbolOffset": 0, "labelOffset": 14}},
            "stroke": {"field": "s", "type": "nominal", "scale": {"domain": ["all", "extreme", "standard"], "range": ["#ff0000", "#008000", "#00ff00"]},
              "legend": {"title": "scenarios"}},
            "size": {"field": "s", "type": "nominal", "scale": {"domain": ["all", "extreme", "standard"], "range": [90, 70, 55]},
              "legend": {"title": "scenarios"}}
          }
        },
        {
          "mark": {"type": "point", "opacity": 0},
          "encoding": {
            "y": {"field": "v", "type": "quantitative", "scale": {"type": "log", "domain": [0.000001, 0.01], "nice": false},
              "axis": {"orient": "right", "values": [0.000001,0.000002,0.000003,0.000004,0.000005,0.000006,0.000007,0.000008,0.000009,0.00001,0.00002,0.00003,0.00004,0.00005,0.00006,0.00007,0.00008,0.00009,0.0001,0.0002,0.0003,0.0004,0.0005,0.0006,0.0007,0.0008,0.0009,0.001,0.002,0.003,0.004,0.005,0.006,0.007,0.008,0.009,0.01],
                "labels": false, "tickSize": -16, "tickWidth": 1.5, "title": null, "grid": false}}
          }
        }
      ],
      "resolve": {"axis": {"y": "independent"}}
    },
    {
      "width": 1348,
      "height": 982,
      "title": {"text": "DRRS_N | 13.3.2020", "orient": "bottom", "anchor": "start", "frame": "bounds", "offset": -4, "dx": -51},
      "encoding": {
        "x": {"field": "w", "type": "quantitative", "scale": {"domain": [380, 820], "nice": false, "zero": false},
          "axis": {"orient": "bottom", "values": [390,400,410,420,430,440,450,460,470,480,490,500,510,520,530,540,550,560,570,580,590,600,610,620,630,640,650,660,670,680,690,700,710,720,730,740,750,760,770,780,790,800,810],
            "format": "d", "labelExpr": "datum.value % 100 == 0 ? datum.label : ''",
            "tickSize": -18, "tickWidth": {"condition": {"test": "datum.value % 100 == 0", "value": 4}, "value": 1.5},
            "labelPadding": 26, "title": "Wavelength [nm]", "titlePadding": 38,
            "domain": true, "domainColor": "black", "domainWidth": 5, "zindex": 1}}
      },
      "layer": [
        {
          "data": {"name": "lines"},
          "transform": [{"filter": "datum.s == 'all'"}],
          "mark": {"type": "line", "strokeWidth": 4.5},
          "encoding": {
            "y": {"field": "n", "type": "quantitative", "scale": {"domain": [0, 1200], "nice": false},
              "axis": {"orient": "left", "values": [0, 200, 400, 600, 800, 1000, 1200], "format": "d", "tickSize": -18, "tickWidth": 1.5, "labelPadding": 34, "labelFontSize": 52,
                "title": "Number of spectra", "titleFontSize": 53, "titlePadding": 17}},
            "stroke": {"field": "s", "type": "nominal", "scale": {"domain": ["all", "extreme", "standard"], "range": ["#ff0000", "#008000", "#00ff00"]},
              "legend": {"title": "scenarios", "orient": "none", "legendX": 50, "legendY": 77, "padding": 0, "titleFontSize": 62, "labelFontSize": 53, "titlePadding": 43, "rowPadding": 12, "clipHeight": 53, "symbolType": "stroke", "symbolSize": 18225, "symbolStrokeWidth": 4.5, "labelOffset": 36}},
            "strokeDash": {"field": "s", "type": "nominal", "scale": {"domain": ["all", "extreme", "standard"], "range": [[1, 0], [18, 9], [1, 0]]},
              "legend": {"title": "scenarios"}}
          }
        },
        {
          "data": {"name": "lines"},
          "transform": [{"filter": "datum.s == 'standard'"}],
          "mark": {"type": "line", "strokeWidth": 4.5},
          "encoding": {
            "y": {"field": "n", "type": "quantitative", "axis": null},
            "stroke": {"field": "s", "type": "nominal"},
            "strokeDash": {"field": "s", "type": "nominal"}
          }
        },
        {
          "data": {"name": "lines"},
          "transform": [{"filter": "datum.s == 'extreme'"}],
          "mark": {"type": "line", "strokeWidth": 4.5},
          "encoding": {
            "y": {"field": "n", "type": "quantitative", "axis": null},
            "stroke": {"field": "s", "type": "nominal"},
            "strokeDash": {"field": "s", "type": "nominal"}
          }
        },
        {
          "data": {"name": "peaks"},
          "mark": {"type": "rule", "color": "black", "strokeWidth": 1.5},
          "encoding": {
            "y": {"field": "top", "type": "quantitative", "axis": null},
            "y2": {"datum": 0}
          }
        },
        {
          "data": {"name": "peaks"},
          "mark": {"type": "text", "fontSize": 32, "font": "Liberation Sans", "baseline": "alphabetic", "align": "center", "dy": -29, "color": "black"},
          "encoding": {
            "y": {"field": "top", "type": "quantitative", "axis": null},
            "text": {"field": "w", "type": "quantitative", "format": "d"}
          }
        },
        {
          "data": {"name": "peaks"},
          "mark": {"type": "point", "opacity": 0},
          "encoding": {
            "y": {"field": "top", "type": "quantitative",
              "axis": {"orient": "right", "values": [200, 400, 600, 800, 1000], "labels": false, "tickSize": -18, "tickWidth": 1.5, "title": null, "grid": false}}
          }
        }
      ],
      "resolve": {"axis": {"y": "independent"}}
    }
  ]
}
